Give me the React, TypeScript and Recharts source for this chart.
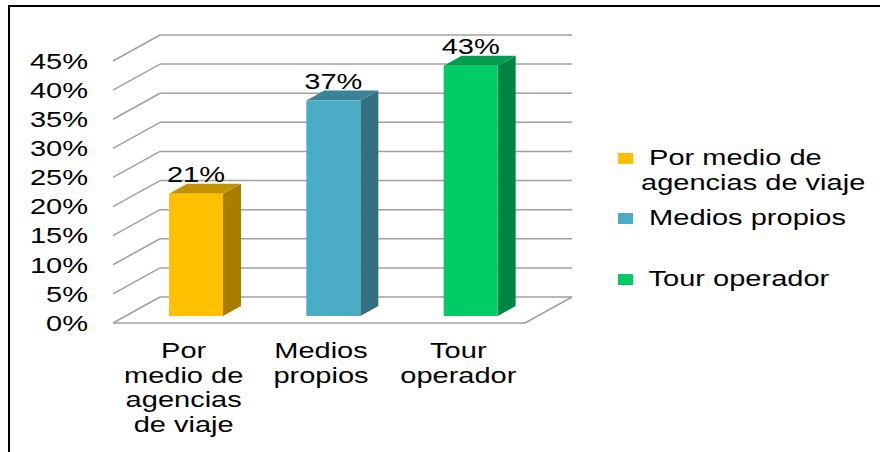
import React from 'react';
import { BarChart, Bar, XAxis, YAxis, CartesianGrid, Cell, LabelList } from 'recharts';

const categories = ['Por medio de agencias de viaje', 'Medios propios', 'Tour operador'];
const shares = [21, 37, 43];
const yTicks = [0, 5, 10, 15, 20, 25, 30, 35, 40, 45];
const barColors = ['#FFC000', '#4BACC6', '#00CC66'];

const data = categories.map((name, i) => ({ name, share: shares[i] }));

const FONT = '"Liberation Sans", Arial, sans-serif';
const FONT_SIZE = 21.5;
const STRETCH = 1.35; // the source image is stretched horizontally
const GRID = '#A0A0A0';

// depth of the 3D walls and of the bars
const WALL_DX = 47;
const WALL_DY = -26;
const BAR_DX = 14;
const BAR_DY = -7;
const SIDE_DX = 18;
const SIDE_DY = -10;

function shade(hex: string, f: number) {
  const n = parseInt(hex.slice(1), 16);
  const r = Math.round(((n >> 16) & 255) * f);
  const g = Math.round(((n >> 8) & 255) * f);
  const b = Math.round((n & 255) * f);
  return `rgb(${r},${g},${b})`;
}

function wrap(text: string, max: number) {
  const lines: string[] = [];
  let cur = '';
  text.split(' ').forEach((w) => {
    const next = cur ? cur + ' ' + w : w;
    if (next.length > max && cur) {
      lines.push(cur);
      cur = w;
    } else {
      cur = next;
    }
  });
  if (cur) lines.push(cur);
  return lines;
}

const GridLine = (p: any) => {
  const { x1, y1, x2, index } = p;
  const bottom = p.y != null && p.height != null ? Math.abs(y1 - (p.y + p.height)) < 0.5 : index === 0;
  return (
    <g key={p.key}>
      <line x1={x1} y1={y1} x2={x1 + WALL_DX} y2={y1 + WALL_DY} stroke={GRID} strokeWidth={1.5} />
      <line x1={x1 + WALL_DX} y1={y1 + WALL_DY} x2={x2 + WALL_DX} y2={y1 + WALL_DY} stroke={GRID} strokeWidth={1.5} />
      {bottom && (
        <>
          <line x1={x1} y1={y1} x2={x2} y2={y1} stroke={GRID} strokeWidth={1.5} />
          <line x1={x2} y1={y1} x2={x2 + WALL_DX} y2={y1 + WALL_DY} stroke={GRID} strokeWidth={1.5} />
        </>
      )}
    </g>
  );
};

const Bar3D = (p: any) => {
  const { x, y, width, height, fill } = p;
  const fx = x + BAR_DX;
  const fy = y + BAR_DY;
  const side = [
    [fx + width, fy],
    [fx + width + SIDE_DX, fy + SIDE_DY],
    [fx + width + SIDE_DX, fy + height + SIDE_DY],
    [fx + width, fy + height],
  ];
  const top = [
    [fx, fy],
    [fx + SIDE_DX, fy + SIDE_DY],
    [fx + width + SIDE_DX, fy + SIDE_DY],
    [fx + width, fy],
  ];
  return (
    <g>
      <polygon points={side.map((pt) => pt.join(',')).join(' ')} fill={shade(fill, 0.65)} />
      <polygon points={top.map((pt) => pt.join(',')).join(' ')} fill={shade(fill, 0.77)} />
      <rect x={fx} y={fy} width={width} height={height} fill={fill} />
    </g>
  );
};

const BarLabel = (p: any) => {
  const { x, y, width, value } = p;
  return (
    <text
      transform={`translate(${x + width / 2 + BAR_DX},${y + BAR_DY - 12}) scale(${STRETCH},1)`}
      textAnchor="middle"
      fontFamily={FONT}
      fontSize={FONT_SIZE}
      fill="#000"
    >
      {value}%
    </text>
  );
};

const YTick = (p: any) => {
  const { x, y, payload } = p;
  return (
    <text
      transform={`translate(${x - 25},${y}) scale(${STRETCH},1)`}
      textAnchor="end"
      dy="0.36em"
      fontFamily={FONT}
      fontSize={FONT_SIZE}
      fill="#000"
    >
      {payload.value}%
    </text>
  );
};

const XTick = (p: any) => {
  const { x, y, payload } = p;
  const lines = wrap(payload.value, 8);
  return (
    <g>
      {lines.map((line, i) => (
        <text
          key={i}
          transform={`translate(${x + 2},${y + 35 + i * 24.5}) scale(${STRETCH},1)`}
          textAnchor="middle"
          fontFamily={FONT}
          fontSize={FONT_SIZE}
          fill="#000"
        >
          {line}
        </text>
      ))}
    </g>
  );
};

function ChartLegend() {
  return (
    <div style={{ position: 'absolute', left: 618, top: 146, fontFamily: FONT, fontSize: FONT_SIZE }}>
      {categories.map((name, i) => (
        <div key={name} style={{ position: 'relative', height: i === 1 ? 61 : 60, lineHeight: '25px' }}>
          <div
            style={{ position: 'absolute', left: 0, top: 7, width: 15, height: 11, background: barColors[i] }}
          />
          <div
            style={{
              position: 'absolute',
              left: 23,
              top: 0,
              whiteSpace: 'pre',
              transform: `scaleX(${STRETCH})`,
              transformOrigin: 'left top',
            }}
          >
            {wrap(name, 17).map((line, j) => (
              <div key={j}>{j === 0 ? ' ' + line : line}</div>
            ))}
          </div>
        </div>
      ))}
    </div>
  );
}

export default function App() {
  return (
    <div
      style={{ position: 'absolute', left: 0, top: 0, width: 880, height: 452, overflow: 'hidden', background: '#fff' }}
    >
      <div
        style={{
          position: 'absolute',
          left: 8,
          top: 5,
          width: 900,
          height: 470,
          borderTop: '2px solid #000',
          borderLeft: '2px solid #000',
        }}
      />
      <div style={{ position: 'absolute', left: 0, top: 0 }}>
        <BarChart width={880} height={452} data={data} margin={{ top: 61, right: 355, bottom: 0, left: 53 }}>
          <CartesianGrid vertical={false} horizontal={GridLine} />
          <XAxis
            dataKey="name"
            height={129}
            axisLine={false}
            tickLine={false}
            tickSize={0}
            tickMargin={0}
            interval={0}
            tick={XTick}
          />
          <YAxis
            width={60}
            domain={[0, 45]}
            ticks={yTicks}
            axisLine={false}
            tickLine={false}
            tickSize={0}
            tickMargin={0}
            tick={YTick}
          />
          <Bar dataKey="share" barSize={54} shape={Bar3D} isAnimationActive={false}>
            {data.map((d, i) => (
              <Cell key={d.name} fill={barColors[i]} />
            ))}
            <LabelList dataKey="share" content={BarLabel} />
          </Bar>
        </BarChart>
      </div>
      <ChartLegend />
    </div>
  );
}
